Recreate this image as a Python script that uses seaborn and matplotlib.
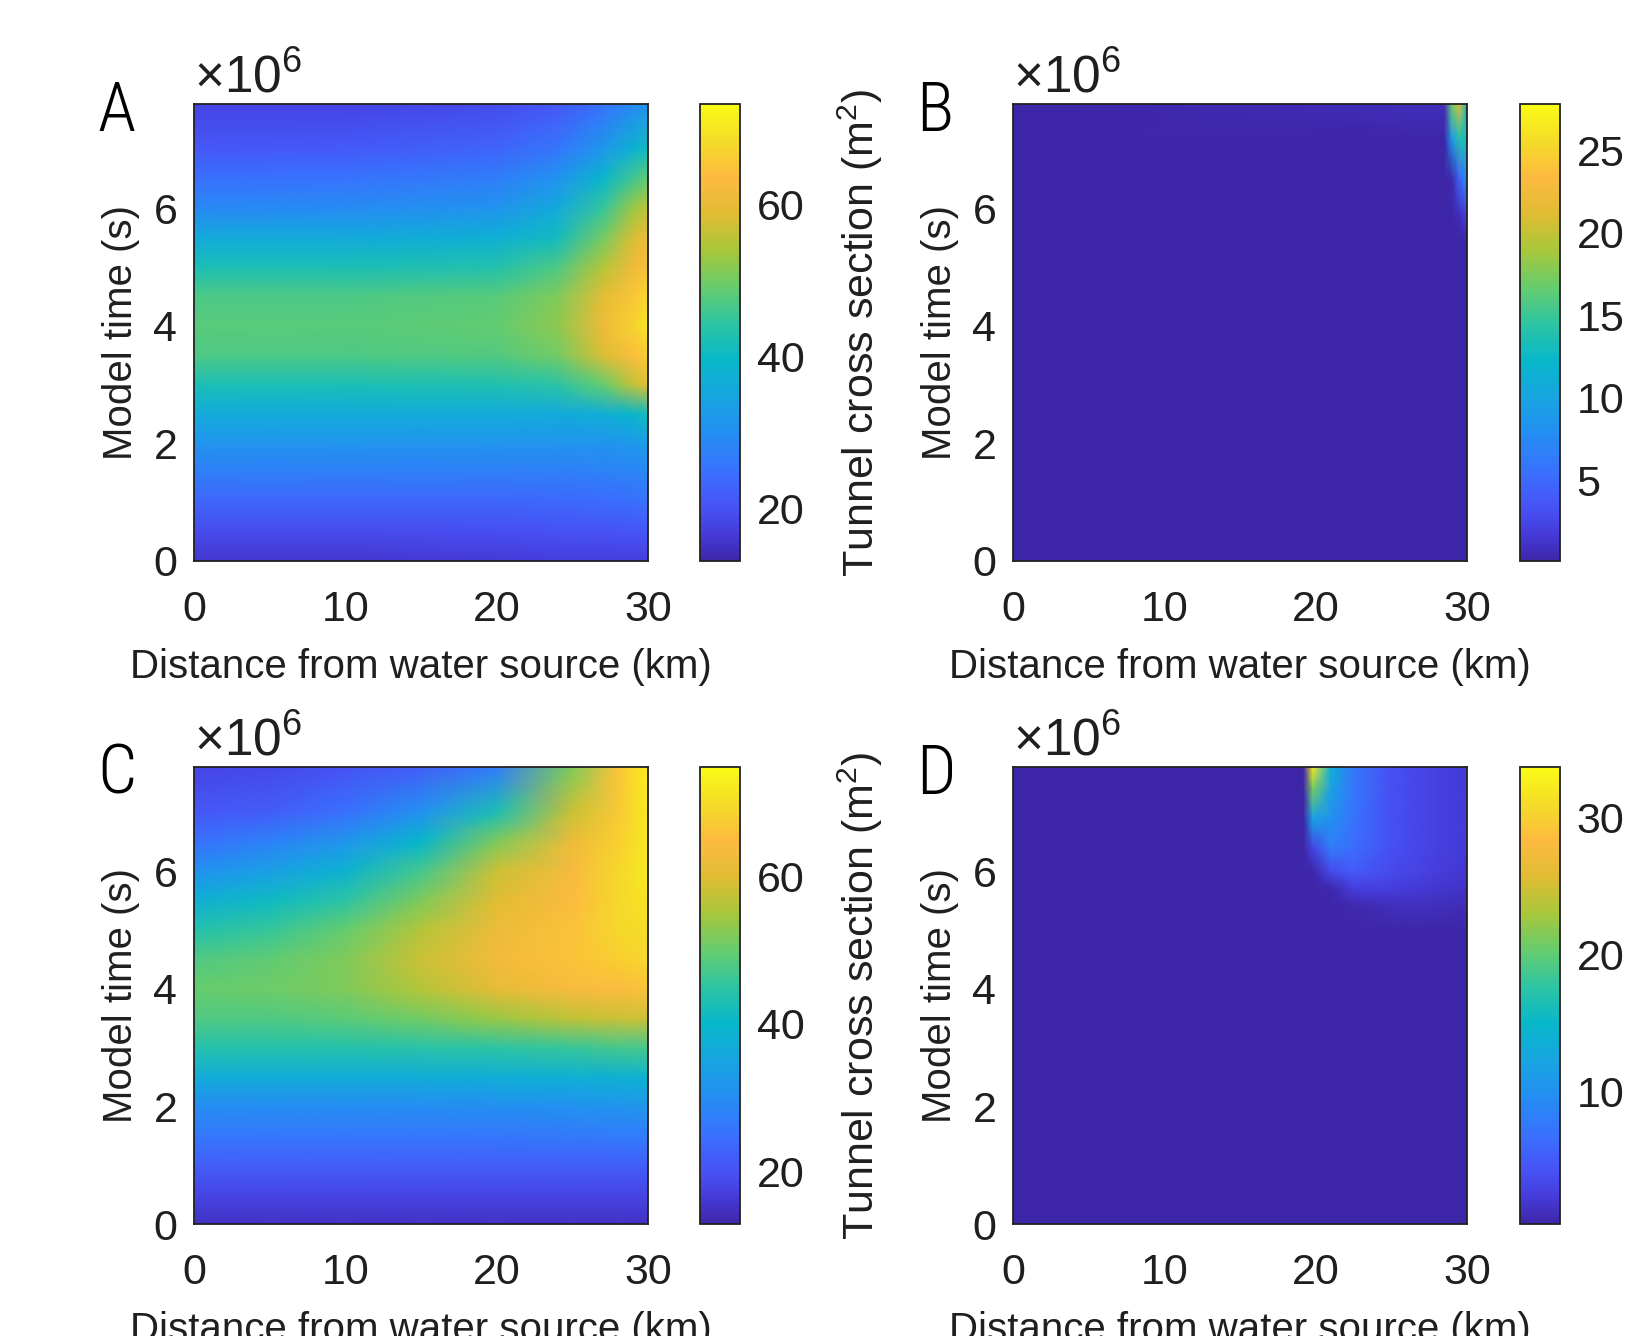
#%% LIB
import numpy as np
import matplotlib
matplotlib.use("Agg")
import matplotlib.pyplot as plt
from matplotlib.colors import LinearSegmentedColormap, Normalize
import seaborn as sns

#%% STYLE
sns.set_theme(style='white', context='notebook')
plt.rcParams['font.family'] = ['Liberation Sans', 'DejaVu Sans']
plt.rcParams['mathtext.fontset'] = 'custom'
plt.rcParams['mathtext.rm'] = 'Liberation Sans'

# parula-like colormap (MATLAB default)
parula_pos = [0, 0.06, 0.12, 0.2, 0.28, 0.36, 0.44, 0.52, 0.6, 0.68, 0.76, 0.84, 0.92, 1]
parula_rgb = [(0.242, 0.150, 0.660), (0.273, 0.235, 0.860), (0.280, 0.330, 0.965),
              (0.220, 0.450, 0.995), (0.140, 0.560, 0.950), (0.090, 0.650, 0.880),
              (0.030, 0.720, 0.790), (0.180, 0.770, 0.640), (0.400, 0.800, 0.430),
              (0.660, 0.780, 0.230), (0.880, 0.740, 0.200), (0.990, 0.730, 0.250),
              (0.960, 0.860, 0.160), (0.977, 0.984, 0.081)]
parula = LinearSegmentedColormap.from_list('parula', list(zip(parula_pos, parula_rgb)))

#%% DATA
# model time nodes in units of 1e6 s, distance nodes in km
t_ac = [0, 0.5, 1, 1.5, 2, 2.5, 3, 3.5, 4, 4.5, 5, 5.5, 6, 6.5, 7, 7.776]

# ---------------------------------------------------
# Panel A
# ---------------------------------------------------
x_a = [0, 10, 20, 24, 27, 29, 30]
z_a = [
    [16, 16, 16.5, 17, 17, 17, 17],
    [19, 19, 19.5, 20, 20, 20.5, 21],
    [23, 23, 23, 23.5, 24, 24.5, 25],
    [27, 27, 27, 27, 27.5, 28, 29],
    [31, 31, 31, 31, 31, 32, 33],
    [36, 36, 36, 36, 37, 39, 41],
    [42, 42, 42.5, 44, 49, 56, 59],
    [47, 47, 47.5, 50, 58, 64, 66],
    [48, 48, 49, 52, 61, 67, 70],
    [47, 47, 48, 51, 59, 65, 68],
    [42, 42, 43, 47, 55, 61, 64],
    [36, 36, 37.5, 41, 50, 58, 61],
    [29, 29.5, 31, 36, 45, 53, 56],
    [25, 25.5, 27, 31, 39, 46, 49],
    [21, 21.5, 23, 26, 32, 38, 41],
    [18, 18, 19, 21, 25, 29, 31],
]
lim_a = (13.1, 73.2)
cticks_a = [20, 40, 60]

# ---------------------------------------------------
# Panel B
# ---------------------------------------------------
x_b = [0, 28.5, 29, 29.5, 30]
t_b = [0, 5.5, 5.9, 6.5, 7.2, 7.776]
z_b = [
    [0.2, 0.2, 0.2, 0.2, 0.2],
    [0.2, 0.2, 0.2, 0.2, 0.2],
    [0.2, 0.2, 0.2, 0.8, 2.2],
    [0.2, 0.2, 0.3, 4.5, 8],
    [0.2, 0.2, 9, 14, 13],
    [0.2, 0.8, 17, 21, 12],
]
lim_b = (0.1, 27.8)
cticks_b = [5, 10, 15, 20, 25]

# ---------------------------------------------------
# Panel C
# ---------------------------------------------------
x_c = [0, 5, 10, 15, 20, 25, 28, 30]
z_c = [
    [15, 15, 15, 15, 15, 15, 15, 15],
    [18, 18, 18, 18, 18, 18, 18, 18],
    [22, 22, 22, 22, 22, 22, 22, 22],
    [26, 26, 26, 26, 26, 26.5, 27, 27],
    [30, 30, 30, 30, 30.5, 31, 31.5, 32],
    [37, 37, 37, 37, 37.5, 38, 38.5, 39],
    [44, 44, 44, 44.5, 45, 46, 47, 47],
    [48, 48, 49, 51, 54, 57, 58, 58],
    [50, 50.5, 52, 56, 61, 64, 65, 66],
    [48, 49.5, 52, 58, 63, 66, 68, 69],
    [44, 46, 50, 56, 62, 66, 69, 70],
    [38, 41, 45, 52, 60, 65, 69, 71],
    [31, 34, 39, 47, 58, 64, 69, 72],
    [25, 28, 32, 40, 52, 62, 68, 72],
    [21, 22, 25, 31, 43, 58, 67, 72],
    [18, 18.5, 20, 22, 27, 52, 66, 73],
]
lim_c = (12.9, 74.8)
cticks_c = [20, 40, 60]

# ---------------------------------------------------
# Panel D
# ---------------------------------------------------
x_d = [0, 18.8, 19.2, 19.8, 21, 22.5, 25, 28, 30]
t_d = [0, 5.0, 5.4, 5.7, 6.0, 6.4, 6.9, 7.4, 7.776]
z_d = [
    [0.4, 0.4, 0.4, 0.4, 0.4, 0.4, 0.4, 0.4, 0.4],
    [0.4, 0.4, 0.4, 0.4, 0.4, 0.4, 0.4, 0.4, 0.4],
    [0.4, 0.4, 0.4, 0.4, 0.4, 0.5, 1.2, 1.2, 1.0],
    [0.4, 0.4, 0.4, 0.4, 0.6, 2.5, 2.5, 2, 1.6],
    [0.4, 0.4, 0.4, 0.4, 3.5, 5, 3.5, 2.5, 2],
    [0.4, 0.4, 0.4, 3, 8, 6.5, 4, 2.8, 2.2],
    [0.4, 0.4, 0.4, 12, 10, 7, 4, 2.8, 2.3],
    [0.4, 0.4, 0.4, 21, 12, 7.5, 4, 2.8, 2.3],
    [0.4, 0.4, 0.4, 32, 14, 7.5, 4, 2.8, 2.3],
]
lim_d = (0.35, 33.7)
cticks_d = [10, 20, 30]

panels = [
    ('A', x_a, t_ac, z_a, lim_a, cticks_a),
    ('B', x_b, t_b, z_b, lim_b, cticks_b),
    ('C', x_c, t_ac, z_c, lim_c, cticks_c),
    ('D', x_d, t_d, z_d, lim_d, cticks_d),
]

#%% PLOT
W, H = 1646, 1336
fig = plt.figure(figsize=(W / 100, H / 100), dpi=100)
txt_col = (0.12, 0.12, 0.12)
letter_font = ['Liberation Sans Narrow', 'Roboto Condensed', 'DejaVu Sans Condensed',
               'Liberation Sans']

# pixel boxes (left, top) of each heatmap and its colorbar
ax_left = [194, 1013, 194, 1013]
ax_top = [104, 104, 767, 767]
cb_left = [700, 1520, 700, 1520]
ax_w, ax_h, cb_w = 454, 457, 40

for i, (letter, xs, ts, zs, lim, cticks) in enumerate(panels):
    ax = fig.add_axes([ax_left[i] / W, 1 - (ax_top[i] + ax_h) / H, ax_w / W, ax_h / H])
    cax = fig.add_axes([cb_left[i] / W, 1 - (ax_top[i] + ax_h) / H, cb_w / W, ax_h / H])

    X, T = np.meshgrid(xs, ts)
    mesh = ax.pcolormesh(X, T, np.array(zs), shading='gouraud', cmap=parula,
                         norm=Normalize(vmin=lim[0], vmax=lim[1]), rasterized=True)
    ax.set_xlim(0, 30)
    ax.set_ylim(0, 7.776)
    ax.set_xticks([0, 10, 20, 30])
    ax.set_yticks([0, 2, 4, 6])
    ax.tick_params(direction='in', length=5, width=1, colors=txt_col, labelsize=31)
    ax.tick_params(axis='x', pad=21)
    ax.tick_params(axis='y', pad=12)
    for s in ax.spines.values():
        s.set_color('#222222')
        s.set_linewidth(1.3)

    ax.set_xlabel('Distance from water source (km)', fontsize=29, color=txt_col)
    ax.set_ylabel('Model time (s)', fontsize=29, color=txt_col)
    ax.xaxis.set_label_coords(0.5, -0.19)
    ax.yaxis.set_label_coords(-0.12, 0.5)

    ax.text(0.0, 1.026, r'$\mathregular{\times 10^{6}}$', transform=ax.transAxes,
            fontsize=37, color=txt_col, va='baseline', ha='left')

    cb = fig.colorbar(mesh, cax=cax)
    cb.set_ticks(cticks)
    cb.outline.set_edgecolor('#222222')
    cb.outline.set_linewidth(1.3)
    cax.tick_params(direction='in', length=0, labelsize=31, colors=txt_col, pad=12)

    # colorbar title (right one is cut by the figure edge like in the original)
    fig.text((cb_left[i] + cb_w + 96) / W, 1 - (ax_top[i] + ax_h / 2) / H,
             'Tunnel cross section (m$^{2}$)', rotation=90, fontsize=31,
             color=txt_col, ha='left', va='center')

    fig.text((ax_left[i] - 97) / W, 1 - (ax_top[i] + 27) / H, letter,
             fontsize=50, family=letter_font, stretch='condensed', weight='light',
             color='black', ha='left', va='baseline')

fig.savefig('out.png', dpi=100)
